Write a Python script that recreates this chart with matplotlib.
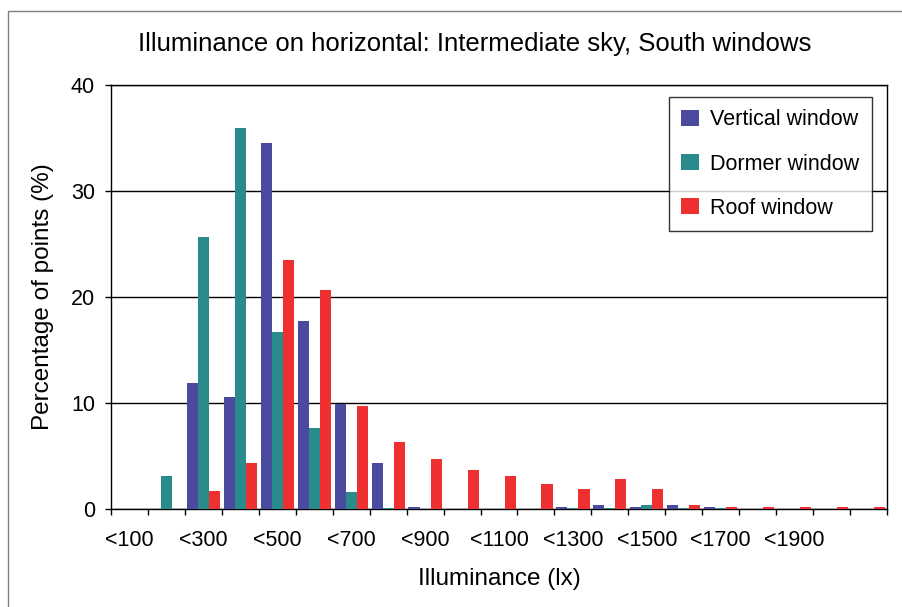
import matplotlib

matplotlib.use("Agg")

import matplotlib.pyplot as plt  # noqa: E402
import numpy as np  # noqa: E402
from matplotlib.patches import Rectangle  # noqa: E402

plt.rcParams["font.family"] = ["Liberation Sans", "DejaVu Sans"]

# illuminance classes (lx), one per 100 lx step
CATEGORIES = ["<100", "<200", "<300", "<400", "<500", "<600", "<700", "<800",
              "<900", "<1000", "<1100", "<1200", "<1300", "<1400", "<1500",
              "<1600", "<1700", "<1800", "<1900", "<2000", "<2100"]
# only every other class is labelled on the axis (last one left blank)
SHOWN_LABELS = ["<100", "<300", "<500", "<700", "<900", "<1100", "<1300",
                "<1500", "<1700", "<1900"]

VERTICAL = [0.0, 0.0, 11.9, 10.6, 34.5, 17.7, 9.9, 4.3, 0.2, 0.0, 0.0, 0.0,
            0.2, 0.4, 0.2, 0.4, 0.2, 0.0, 0.0, 0.0, 0.0]
DORMER = [0.0, 3.1, 25.7, 35.9, 16.7, 7.6, 1.6, 0.1, 0.0, 0.0, 0.0, 0.0,
          0.1, 0.1, 0.4, 0.1, 0.1, 0.0, 0.0, 0.0, 0.0]
ROOF = [0.0, 0.0, 1.7, 4.3, 23.5, 20.7, 9.7, 6.3, 4.7, 3.7, 3.1, 2.4,
        1.9, 2.8, 1.9, 0.4, 0.2, 0.2, 0.2, 0.2, 0.2]

SERIES = [("Vertical window", VERTICAL, "#4a4a9e"),
          ("Dormer window", DORMER, "#2a8a8c"),
          ("Roof window", ROOF, "#ee3030")]

W, H = 902, 607
fig = plt.figure(figsize=(W / 100, H / 100), dpi=100)

# outer chart frame (runs off the right/bottom edge in the original)
fig.patches.append(Rectangle((8 / W, -0.05), 1.2, 1 - 11 / H + 0.05,
                             transform=fig.transFigure, fill=False,
                             edgecolor="#808080", lw=1.0))

ax = fig.add_axes([111 / W, (H - 509) / H, (887 - 111) / W, (509 - 85) / H])

x = np.arange(len(CATEGORIES))
bw = 0.3
for i, (name, vals, col) in enumerate(SERIES):
    ax.bar(x + (i - 1) * bw, vals, width=bw, color=col, label=name,
           edgecolor="none", zorder=3)

ax.set_xlim(-0.5, len(CATEGORIES) - 0.5)
ax.set_ylim(0, 40)
ax.set_yticks([0, 10, 20, 30, 40])
ax.yaxis.grid(True, color="black", lw=1.0, zorder=0)

# ticks at class boundaries, labels centred on every second class
ax.set_xticks(np.arange(len(CATEGORIES) + 1) - 0.5)
ax.set_xticklabels([])
ax.set_xticks(x[::2][:len(SHOWN_LABELS)], minor=True)
ax.set_xticklabels(SHOWN_LABELS, minor=True)
ax.tick_params(axis="x", which="minor", length=0, pad=15, labelsize=15.5)
ax.tick_params(axis="x", which="major", length=4.5, width=1.0, direction="out")
ax.tick_params(axis="y", length=4.5, width=1.0, labelsize=15.5, pad=7)

for s in ax.spines.values():
    s.set_color("black")
    s.set_linewidth(1.0)

ax.set_xlabel("Illuminance (lx)", fontsize=17.5, labelpad=12)
ax.set_ylabel("Percentage of points (%)", fontsize=17.5, labelpad=12)
fig.text(475 / W, 1 - 44 / H,
         "Illuminance on horizontal: Intermediate sky, South windows",
         ha="center", va="center", fontsize=18.5)

leg = ax.legend(loc="upper right", bbox_to_anchor=(872 / W, 1 - 97 / H),
                bbox_transform=fig.transFigure, fontsize=15.5, frameon=True,
                fancybox=False, edgecolor="black", handlelength=0.8,
                handleheight=0.75, handletextpad=0.55, labelspacing=1.07,
                borderpad=0.58, borderaxespad=0)
leg.get_frame().set_linewidth(1.0)

fig.savefig("out.png", dpi=100)
